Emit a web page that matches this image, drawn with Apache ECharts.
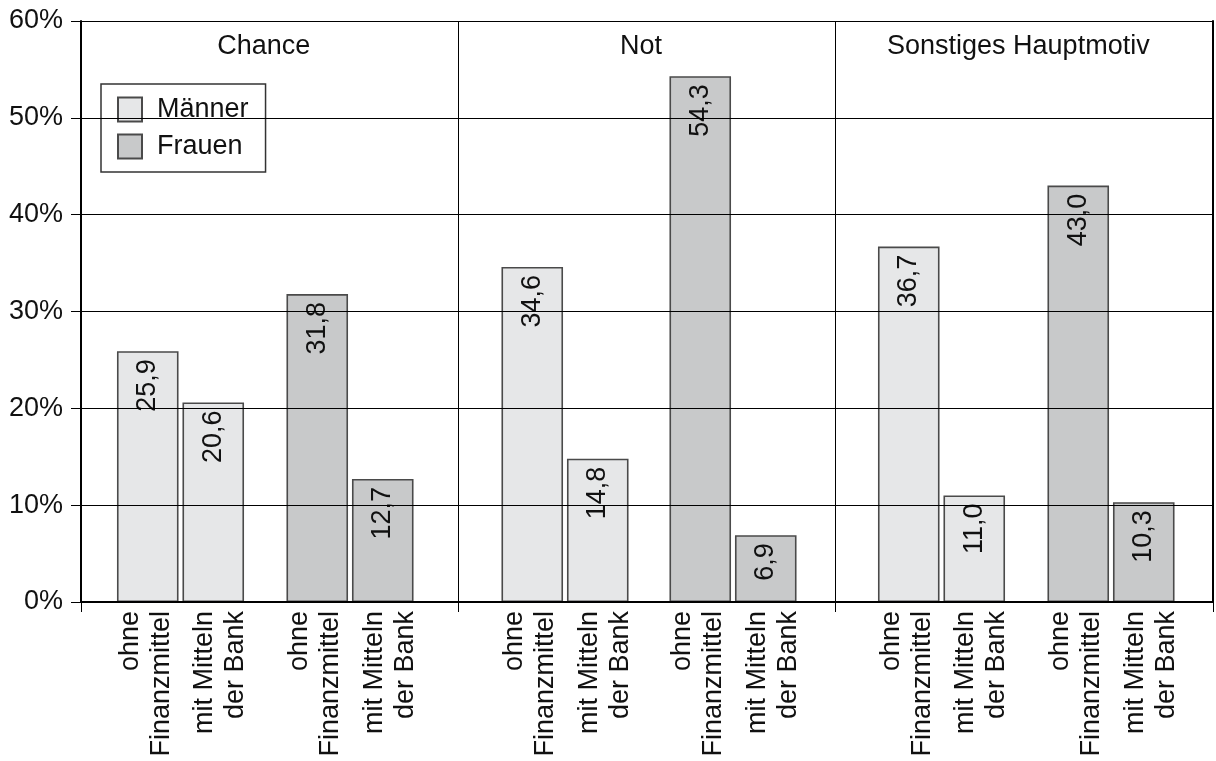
<!DOCTYPE html>
<html><head><meta charset="utf-8">
<script src="https://cdn.jsdelivr.net/npm/echarts@6/dist/echarts.min.js"></script>
<style>html,body{margin:0;padding:0;background:#fff}#c{width:1216px;height:761px}</style>
</head><body><div id="c"></div>
<script>
const panels = ['Chance', 'Not', 'Sonstiges Hauptmotiv'];
const barLabels = ['ohne\nFinanzmittel', 'mit Mitteln\nder Bank'];
const groups = ['Männer', 'Frauen'];
const maennerOhne = [25.9, 34.6, 36.7];
const maennerMit = [20.6, 14.8, 11.0];
const frauenOhne = [31.8, 54.3, 43.0];
const frauenMit = [12.7, 6.9, 10.3];
const yMin = 0, yMax = 60, yStep = 10;

// layout (pixel centres of the bar pairs)
const groupCenters = [180.5, 350, 565, 733, 941.5, 1111];
const pairWidth = 131;
const FONT = 'Liberation Sans, Arial, Helvetica, sans-serif';
const FS = 27;
const colors = { 'Männer': '#e6e7e8', 'Frauen': '#c8c9ca' };

const fmt = v => v.toFixed(1).replace('.', ',');
// small spacer lines nudge each rotated two-line label sideways
const labelFormatter = (v, idx) => {
  const lines = v.split('\n').map(s => '{a|' + s + '}');
  return idx === 0 ? lines.join('\n') + '\n{s|\u00a0}' : '{t|\u00a0}\n' + lines.join('\n');
};

const grids = [{ left: 81, right: 3, top: 21, bottom: 159 }];
const xAxes = [
  { gridIndex: 0, type: 'category', data: panels, position: 'bottom', z: 5,
    axisLine: { lineStyle: { color: '#000', width: 2 } },
    axisTick: { show: true, length: 10, interval: 0, lineStyle: { color: '#000', width: 1 } },
    axisLabel: { show: false },
    splitLine: { show: true, interval: 0, lineStyle: { color: '#000', width: 1 } } },
  { gridIndex: 0, type: 'category', data: panels, position: 'top', z: 5,
    axisLine: { show: true, lineStyle: { color: '#000', width: 2 } },
    axisTick: { show: false },
    axisLabel: { show: true, inside: true, interval: 0, margin: 12, verticalAlign: 'top',
      fontSize: FS, fontFamily: FONT, color: '#111', padding: [0, 12, 0, 0] } }
];
const yAxes = [
  { gridIndex: 0, type: 'value', min: yMin, max: yMax, interval: yStep, position: 'left', z: 5,
    axisLine: { show: true, lineStyle: { color: '#000', width: 2 } },
    axisTick: { show: true, length: 10, lineStyle: { color: '#000', width: 1 } },
    axisLabel: { formatter: '{value}%', fontSize: FS, fontFamily: FONT, color: '#111', margin: 18 },
    splitLine: { show: true, lineStyle: { color: '#000', width: 1 } } },
  { gridIndex: 0, type: 'value', min: yMin, max: yMax, interval: yStep, position: 'right', z: 5,
    axisLine: { show: true, lineStyle: { color: '#000', width: 2 } },
    axisTick: { show: false }, axisLabel: { show: false }, splitLine: { show: false } }
];
const series = [];
const valuesByGroup = [[maennerOhne, maennerMit], [frauenOhne, frauenMit]];
let gi = 1;
panels.forEach((p, pi) => {
  groups.forEach((g, k) => {
    const c = groupCenters[pi * 2 + k];
    grids.push({ left: c - pairWidth / 2, width: pairWidth, top: 21, bottom: 159 });
    xAxes.push({ gridIndex: gi, type: 'category', data: barLabels,
      axisLine: { show: false }, axisTick: { show: false },
      axisLabel: { interval: 0, rotate: 90, margin: 9, color: '#111',
        formatter: labelFormatter,
        rich: {
          a: { fontSize: FS, fontFamily: FONT, color: '#111', lineHeight: 31 },
          s: { fontSize: 2, lineHeight: 4 },
          t: { fontSize: 2, lineHeight: 14 }
        } } });
    yAxes.push({ gridIndex: gi, type: 'value', min: yMin, max: yMax, interval: yStep, show: false });
    series.push({
      type: 'bar', name: g, xAxisIndex: gi + 1, yAxisIndex: gi + 1, z: 3,
      data: [valuesByGroup[k][0][pi], valuesByGroup[k][1][pi]],
      barWidth: '94%',
      itemStyle: { color: colors[g], borderColor: '#4a4a4a', borderWidth: 1.6 },
      label: { show: true, position: 'insideTop', rotate: 90, align: 'right', verticalAlign: 'middle',
        distance: 8, fontSize: FS, fontFamily: FONT, color: '#111',
        formatter: d => fmt(d.value) }
    });
    gi++;
  });
});

const chart = echarts.init(document.getElementById('c'), null, { renderer: 'canvas' });
chart.setOption({
  animation: false,
  backgroundColor: '#fff',
  grid: grids,
  xAxis: xAxes,
  yAxis: yAxes,
  legend: {
    data: groups, left: 101, top: 84, orient: 'vertical', icon: 'rect',
    itemWidth: 24, itemHeight: 24, itemGap: 10,
    borderColor: '#333', borderWidth: 1.5, backgroundColor: '#fff',
    padding: [12, 17, 12, 16],
    textStyle: { fontSize: FS, fontFamily: FONT, color: '#111', lineHeight: 24, padding: [0, 0, 0, 10] }
  },
  series: series
});
</script></body></html>
